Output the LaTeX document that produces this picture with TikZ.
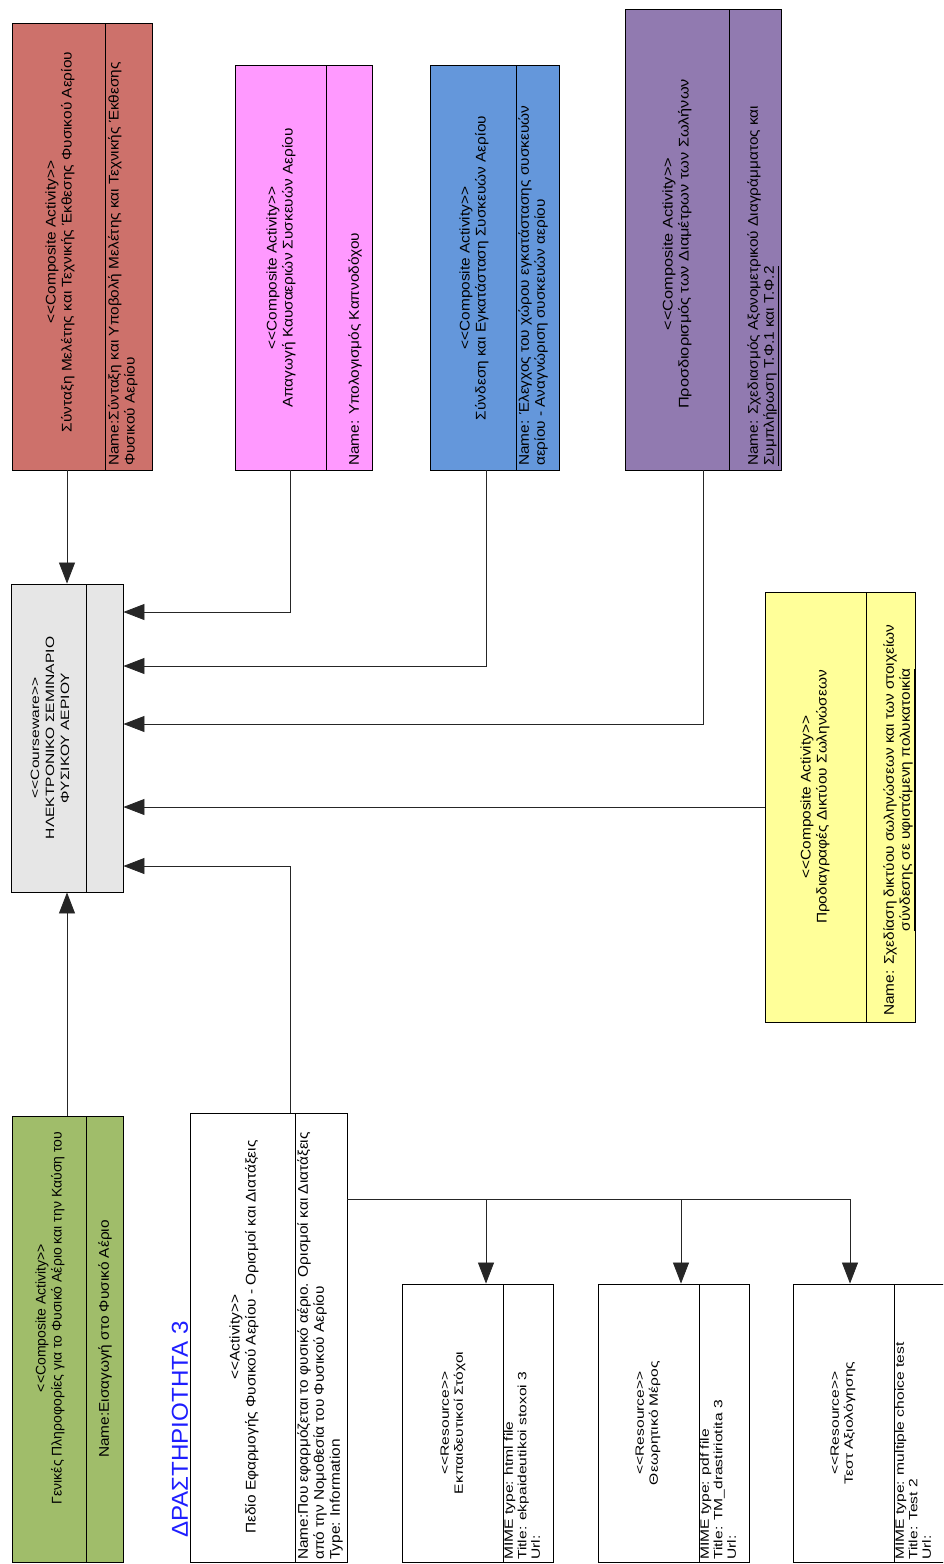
\documentclass[tikz,border=0pt]{standalone}
\usepackage{fontspec}
\setmainfont{Liberation Sans}
\usetikzlibrary{arrows.meta,fit}
\definecolor{cred}{RGB}{205,113,107}
\definecolor{cpink}{RGB}{255,153,255}
\definecolor{cblue}{RGB}{100,151,219}
\definecolor{cpurple}{RGB}{145,122,176}
\definecolor{cgray}{RGB}{230,230,230}
\definecolor{cyellow}{RGB}{255,255,153}
\definecolor{cgreen}{RGB}{160,189,106}
\definecolor{ctitle}{RGB}{30,30,255}
\newcommand\umlbox[7]{%
  \node[box, fill=#7, fit={(#2,#3) (#4,#5)}] (#1) {};
  \draw[divline] (#6,#3) -- (#6,#5);
}
\newcommand\stA{<{}<Composite Activity>{}>}
\begin{document}
\begin{tikzpicture}[x=1pt,y=-1pt,
  box/.style={draw=black, line width=0.9pt, inner sep=0pt},
  divline/.style={draw=black, line width=0.9pt},
  maintxt/.style={rotate=90, xscale=1.1, align=center, font=\fontsize{14}{16}\selectfont, inner sep=0pt},
  attrtxt/.style={rotate=90, xscale=1.1, align=left, anchor=north west, font=\fontsize{14}{16}\selectfont, inner sep=0pt},
  restxt/.style={rotate=90, xscale=1.3, align=center, font=\fontsize{12}{14}\selectfont, inner sep=0pt},
  resattr/.style={rotate=90, xscale=1.3, align=left, anchor=north west, font=\fontsize{12}{13.5}\selectfont, inner sep=0pt},
  conn/.style={draw=black!85, line width=0.8pt},
  arr/.style={conn, -{Triangle[length=21pt,width=16pt]}}]
\useasboundingbox (0,0) rectangle (943,1564);
\fill[white] (0,0) rectangle (943,1564);
\clip (0,0) rectangle (943,1564);

% boxes
\umlbox{red}{12}{23}{152}{470}{105}{cred}
\umlbox{pink}{235}{65}{372}{470}{326}{cpink}
\umlbox{blue}{430}{65}{559}{470}{516}{cblue}
\umlbox{purple}{625}{9}{781}{470}{729}{cpurple}
\umlbox{cw}{11}{584}{123}{892}{86}{cgray}
\umlbox{yel}{765}{592}{915}{1022}{866}{cyellow}
\umlbox{grn}{12}{1116}{123}{1562}{86}{cgreen}
\umlbox{act}{190}{1113}{347}{1562}{295}{white}
\umlbox{r1}{402}{1284}{553}{1562}{503}{white}
\umlbox{r2}{598}{1284}{749}{1562}{699}{white}
\umlbox{r3}{793}{1284}{944}{1562}{894}{white}

% texts
\node[maintxt] (redT) at (60,242) {\stA\\Σύνταξη Μελέτης και Τεχνικής Έκθεσης Φυσικού Αερίου};
\node[attrtxt] (redA) at (108,466) {Name:Σύνταξη και Υποβολή Μελέτης και Τεχνικής Έκθεσης\\Φυσικού Αερίου};
\node[maintxt] (pinkT) at (281,268) {\stA\\Απαγωγή Καυσαεριών Συσκευών Αερίου};
\node[attrtxt] (pinkA) at (348,466) {Name: Υπολογισμός Καπνοδόχου};
\node[maintxt] (blueT) at (474,268) {\stA\\Σύνδεση και Εγκατάσταση Συσκευών Αερίου};
\node[attrtxt] (blueA) at (518,466) {Name: Έλεγχος του χώρου εγκατάστασης συσκευών\\αερίου - Αναγνώριση συσκευών αερίου};
\node[maintxt, xscale=1.06] (purpleT) at (677,244) {\stA\\Προσδιορισμός των Διαμέτρων των Σωλήνων};
\node[attrtxt] (purpleA) at (747,466) {Name: Σχεδιασμός Αξονομετρικού Διαγράμματος και\\\underline{Συμπλήρωση Τ.Φ.1 και Τ.Φ.2}};
\node[restxt, font=\fontsize{12}{15}\selectfont] (cwT) at (50,738) {<{}<Courseware>{}>\\ΗΛΕΚΤΡΟΝΙΚΟ ΣΕΜΙΝΑΡΙΟ\\ΦΥΣΙΚΟΥ ΑΕΡΙΟΥ};
\node[maintxt] (yelT) at (815,797) {\stA\\Προδιαγραφές Δικτύου Σωληνώσεων};
\node[attrtxt] (yelA) at (883,1016) {Name: Σχεδίαση δικτύου σωληνώσεων και των στοιχείων\\\hspace*{5.5em}\underline{σύνδεσης σε υφιστάμενη πολυκατοικία}};
\node[maintxt, xscale=0.91] (grnT) at (50,1318) {\stA\\Γενικές Πληροφορίες για το Φυσικό Αέριο και την Καύση του};
\node[maintxt] (grnA) at (105,1339) {Name:Εισαγωγή στο Φυσικό Αέριο};
\node[maintxt] (actT) at (244,1337) {<{}<Activity>{}>\\Πεδίο Εφαρμογής Φυσικού Αερίου - Ορισμοί και Διατάξεις};
\node[attrtxt] (actA) at (297,1560) {Name:Που εφαρμόζεται το φυσικό αέριο. Ορισμοί και Διατάξεις\\από την Νομοθεσία του Φυσικού Αερίου\\Type: Information};
\node[restxt] (r1T) at (453,1423) {<{}<Resource>{}>\\Εκπαιδευτικοί Στόχοι};
\node[resattr] (r1A) at (504,1560) {MIME type: html file\\Title: ekpaideutikoi stoxoi 3\\Url:};
\node[restxt] (r2T) at (648,1423) {<{}<Resource>{}>\\Θεωρητικό Μέρος};
\node[resattr] (r2A) at (700,1560) {MIME type: pdf file\\Title: TM\_drastiriotita 3\\Url:};
\node[restxt] (r3T) at (843,1423) {<{}<Resource>{}>\\Τεστ Αξιολόγησης};
\node[resattr] (r3A) at (895,1560) {MIME type: multiple choice test\\Title: Test 2\\Url:};
\node[rotate=90, xscale=1.05, anchor=west, text=ctitle, font=\fontsize{23}{26}\selectfont, inner sep=0pt] (title) at (180,1538) {ΔΡΑΣΤΗΡΙΟΤΗΤΑ 3};

% bend coordinates
\coordinate (bp) at (290,612);
\coordinate (bb) at (486,666);
\coordinate (bu) at (703,724);
\coordinate (ba) at (290,866);
\coordinate (j1) at (486,1199);
\coordinate (j2) at (681,1199);
\coordinate (j3) at (850,1199);

% connectors to courseware
\draw[arr] (cw.north |- red.south) -- (cw.north);
\draw[arr] (pink.south -| bp) |- (cw.east |- bp);
\draw[arr] (blue.south -| bb) |- (cw.east |- bb);
\draw[arr] (purple.south -| bu) |- (cw.east |- bu);
\draw[arr] (yel.west) -- (cw.east |- yel.west);
\draw[arr] (act.north -| ba) |- (cw.east |- ba);
\draw[arr] (cw.south |- grn.north) -- (cw.south);

% activity to resources
\draw[conn] (act.east |- j1) -- (j3);
\draw[arr] (j1) -- (r1.north -| j1);
\draw[arr] (j2) -- (r2.north -| j2);
\draw[arr] (j3) -- (r3.north -| j3);
\end{tikzpicture}
\end{document}
